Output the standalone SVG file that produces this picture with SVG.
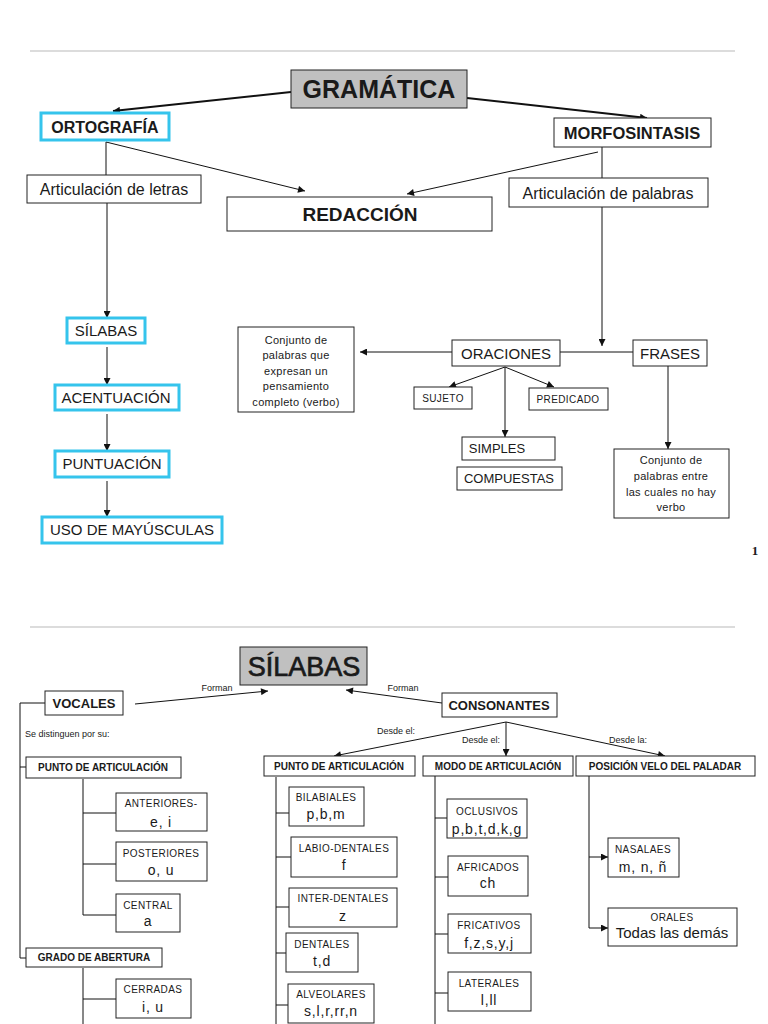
<svg xmlns="http://www.w3.org/2000/svg" width="768" height="1024" viewBox="0 0 768 1024">
<defs>
<style>
text{font-family:"Liberation Sans",Arial,sans-serif;fill:#1a1a1a;text-anchor:middle}
.b{font-weight:bold}
.box{fill:#fff;stroke:#222;stroke-width:1}
.cy{fill:#fff;stroke:#35c4ec;stroke-width:3}
.gray{fill:#c0c0c0;stroke:#222;stroke-width:1}
.ln{fill:none;stroke:#111;stroke-width:1}
.th{fill:none;stroke:#111;stroke-width:2}
.sep{stroke:#dcdcdc;stroke-width:2}
.s9{font-size:9px}
.s10{font-size:10px}
.l{letter-spacing:0.4px}
.s11{font-size:11px;letter-spacing:0.3px}
.s14{font-size:14px;letter-spacing:0.8px}
.s15{font-size:15px}
.s16{font-size:16px}
</style>
<marker id="ah" viewBox="0 0 10 10" refX="10" refY="5" markerWidth="8" markerHeight="7" markerUnits="userSpaceOnUse" orient="auto"><path d="M0,0 L10,5 L0,10 z" fill="#111"/></marker>
</defs>
<rect width="768" height="1024" fill="#fff"/>
<line class="sep" x1="30" y1="51" x2="735" y2="51"/>
<line class="sep" x1="30" y1="627" x2="735" y2="627"/>
<text x="755" y="555" style="font-family:'Liberation Serif',serif;font-size:13px;font-weight:bold">1</text>

<g id="connectors">
<line class="th" x1="291" y1="92" x2="113" y2="111" marker-end="url(#ah)"/>
<line class="th" x1="467" y1="98" x2="647" y2="118" marker-end="url(#ah)"/>
<line class="ln" x1="106" y1="142" x2="305" y2="191" marker-end="url(#ah)"/>
<line class="ln" x1="106" y1="142" x2="106" y2="175"/>
<line class="ln" x1="107" y1="203" x2="107" y2="318" marker-end="url(#ah)"/>
<line class="ln" x1="598" y1="152" x2="407" y2="194" marker-end="url(#ah)"/>
<line class="ln" x1="602" y1="147" x2="602" y2="178"/>
<line class="ln" x1="602" y1="207" x2="602" y2="346" marker-end="url(#ah)"/>
<line class="ln" x1="560" y1="352" x2="633" y2="352"/>
<line class="ln" x1="452" y1="352" x2="360" y2="352" marker-end="url(#ah)"/>
<line class="ln" x1="505" y1="367" x2="449" y2="387" marker-end="url(#ah)"/>
<line class="ln" x1="505" y1="367" x2="554" y2="387" marker-end="url(#ah)"/>
<line class="ln" x1="505" y1="367" x2="505" y2="437" marker-end="url(#ah)"/>
<line class="ln" x1="668" y1="366" x2="668" y2="449" marker-end="url(#ah)"/>
<line class="ln" x1="107" y1="347" x2="107" y2="385" marker-end="url(#ah)"/>
<line class="ln" x1="107" y1="414" x2="107" y2="451" marker-end="url(#ah)"/>
<line class="ln" x1="107" y1="481" x2="107" y2="517" marker-end="url(#ah)"/>

<line class="ln" x1="135" y1="704" x2="268" y2="691" marker-end="url(#ah)"/>
<line class="ln" x1="442" y1="703" x2="346" y2="690" marker-end="url(#ah)"/>
<path class="ln" d="M45,703 H20 V958 H26 M20,767 H26"/>
<path class="ln" d="M83,779 V915 M83,813 H116 M83,864 H116 M83,915 H116"/>
<path class="ln" d="M83,968 V1024 M83,999 H116"/>
<line class="ln" x1="506" y1="722" x2="334" y2="756" marker-end="url(#ah)"/>
<line class="ln" x1="506" y1="722" x2="506" y2="756" marker-end="url(#ah)"/>
<line class="ln" x1="506" y1="722" x2="665" y2="756" marker-end="url(#ah)"/>
<path class="ln" d="M276,777 V1024 M276,813 H289 M276,857 H291 M276,907 H289 M276,953 H286 M276,1005 H288"/>
<path class="ln" d="M435,776 V1024 M435,818 H447 M435,877 H448 M435,934 H448 M435,993 H448"/>
<path class="ln" d="M589,776 V928 H608" marker-end="url(#ah)"/>
<line class="ln" x1="589" y1="857" x2="608" y2="857" marker-end="url(#ah)"/>
<text class="s9" x="217" y="691">Forman</text>
<text class="s9" x="403" y="691">Forman</text>
<text class="s9" x="396" y="734">Desde el:</text>
<text class="s9" x="481" y="743">Desde el:</text>
<text class="s9" x="628" y="743">Desde la:</text>
<text class="s9" x="25" y="737" style="text-anchor:start">Se distinguen por su:</text>
</g>

<g id="gramatica"><rect class="gray" x="291" y="70" width="176" height="38"/><text class="b" x="379" y="98" style="font-size:25px">GRAMÁTICA</text></g>
<g id="ortografia"><rect class="cy" x="41" y="113" width="128" height="27"/><text class="b s16" x="105" y="133">ORTOGRAFÍA</text></g>
<g id="morfosintasis"><rect class="box" x="554" y="118" width="157" height="29"/><text class="b" x="632" y="139" style="font-size:16.5px">MORFOSINTASIS</text></g>
<g id="art-letras"><rect class="box" x="27" y="175" width="174" height="28"/><text class="s16" x="114" y="195">Articulación de letras</text></g>
<g id="redaccion"><rect class="box" x="227" y="197" width="265" height="34"/><text class="b" x="360" y="221" style="font-size:19px">REDACCIÓN</text></g>
<g id="art-palabras"><rect class="box" x="509" y="178" width="199" height="29"/><text class="s16" x="608" y="199">Articulación de palabras</text></g>
<g id="silabas1"><rect class="cy" x="67" y="318" width="78" height="25"/><text class="s15" x="106" y="336">SÍLABAS</text></g>
<g id="acentuacion"><rect class="cy" x="55" y="385" width="124" height="25"/><text class="s15" x="116" y="403">ACENTUACIÓN</text></g>
<g id="puntuacion"><rect class="cy" x="55" y="451" width="114" height="26"/><text class="s15" x="112" y="469">PUNTUACIÓN</text></g>
<g id="mayusculas"><rect class="cy" x="42" y="517" width="180" height="26"/><text class="s15" x="132" y="535">USO DE MAYÚSCULAS</text></g>
<g id="conjunto1"><rect class="box" x="238" y="327" width="116" height="85"/>
<text class="s11" x="296" y="344">Conjunto de</text><text class="s11" x="296" y="359">palabras que</text><text class="s11" x="296" y="375">expresan un</text><text class="s11" x="296" y="390">pensamiento</text><text class="s11" x="296" y="406">completo (verbo)</text></g>
<g id="oraciones"><rect class="box" x="452" y="340" width="108" height="26"/><text class="s15" x="506" y="359">ORACIONES</text></g>
<g id="frases"><rect class="box" x="633" y="340" width="74" height="26"/><text class="s15" x="670" y="359">FRASES</text></g>
<g id="sujeto"><rect class="box" x="414" y="387" width="58" height="22"/><text class="s10 l" x="443" y="402">SUJETO</text></g>
<g id="predicado"><rect class="box" x="529" y="388" width="79" height="22"/><text class="s10 l" x="568" y="403">PREDICADO</text></g>
<g id="simples"><rect class="box" x="462" y="437" width="93" height="23"/><text x="497" y="453" style="font-size:13px">SIMPLES</text></g>
<g id="compuestas"><rect class="box" x="457" y="467" width="105" height="23"/><text x="509" y="483" style="font-size:13px">COMPUESTAS</text></g>
<g id="conjunto2"><rect class="box" x="614" y="449" width="115" height="69"/>
<text class="s11" x="671" y="464">Conjunto de</text><text class="s11" x="671" y="480">palabras entre</text><text class="s11" x="671" y="496">las cuales no hay</text><text class="s11" x="671" y="511">verbo</text></g>

<g id="silabas2"><rect class="gray" x="240" y="647" width="127" height="38"/><text x="304" y="676" style="font-size:27px;stroke:#1a1a1a;stroke-width:0.7">SÍLABAS</text></g>
<g id="vocales"><rect class="box" x="45" y="691" width="78" height="24"/><text class="b" x="84" y="708" style="font-size:13px">VOCALES</text></g>
<g id="consonantes"><rect class="box" x="442" y="693" width="115" height="24"/><text class="b" x="499" y="710" style="font-size:13px">CONSONANTES</text></g>
<g id="punto-v"><rect class="box" x="26" y="757" width="155" height="21"/><text class="b s10" x="103" y="771">PUNTO DE ARTICULACIÓN</text></g>
<g id="anteriores"><rect class="box" x="116" y="793" width="91" height="38"/><text class="s10 l" x="161" y="807">ANTERIORES-</text><text class="s14" x="161" y="827">e, i</text></g>
<g id="posteriores"><rect class="box" x="116" y="842" width="91" height="39"/><text class="s10 l" x="161" y="857">POSTERIORES</text><text class="s14" x="161" y="875">o, u</text></g>
<g id="central"><rect class="box" x="116" y="894" width="64" height="38"/><text class="s10 l" x="148" y="909">CENTRAL</text><text class="s14" x="148" y="926">a</text></g>
<g id="grado"><rect class="box" x="26" y="948" width="136" height="19"/><text class="b s10" x="94" y="961">GRADO DE ABERTURA</text></g>
<g id="cerradas"><rect class="box" x="116" y="979" width="75" height="39"/><text class="s10 l" x="153" y="993">CERRADAS</text><text class="s14" x="153" y="1012">i, u</text></g>
<g id="punto-c"><rect class="box" x="264" y="756" width="151" height="20"/><text class="b s10" x="339" y="770">PUNTO DE ARTICULACIÓN</text></g>
<g id="modo"><rect class="box" x="423" y="756" width="150" height="20"/><text class="b s10" x="498" y="770">MODO DE ARTICULACIÓN</text></g>
<g id="posicion"><rect class="box" x="576" y="756" width="179" height="20"/><text class="b s10" x="665" y="770">POSICIÓN VELO DEL PALADAR</text></g>
<g id="bilabiales"><rect class="box" x="289" y="787" width="75" height="39"/><text class="s10 l" x="326" y="801">BILABIALES</text><text class="s14" x="326" y="819">p,b,m</text></g>
<g id="labiodentales"><rect class="box" x="291" y="837" width="106" height="40"/><text class="s10 l" x="344" y="852">LABIO-DENTALES</text><text class="s14" x="344" y="870">f</text></g>
<g id="interdentales"><rect class="box" x="289" y="888" width="108" height="39"/><text class="s10 l" x="343" y="902">INTER-DENTALES</text><text class="s14" x="343" y="921">z</text></g>
<g id="dentales"><rect class="box" x="286" y="933" width="72" height="39"/><text class="s10 l" x="322" y="948">DENTALES</text><text class="s14" x="322" y="966">t,d</text></g>
<g id="alveolares"><rect class="box" x="288" y="984" width="86" height="39"/><text class="s10 l" x="331" y="998">ALVEOLARES</text><text class="s14" x="331" y="1016">s,l,r,rr,n</text></g>
<g id="oclusivos"><rect class="box" x="447" y="799" width="80" height="39"/><text class="s10 l" x="487" y="815">OCLUSIVOS</text><text class="s14" x="487" y="834">p,b,t,d,k,g</text></g>
<g id="africados"><rect class="box" x="448" y="856" width="80" height="40"/><text class="s10 l" x="488" y="871">AFRICADOS</text><text class="s14" x="488" y="888">ch</text></g>
<g id="fricativos"><rect class="box" x="448" y="914" width="83" height="39"/><text class="s10 l" x="489" y="929">FRICATIVOS</text><text class="s14" x="489" y="948">f,z,s,y,j</text></g>
<g id="laterales"><rect class="box" x="448" y="972" width="83" height="39"/><text class="s10 l" x="489" y="987">LATERALES</text><text class="s14" x="489" y="1005">l,ll</text></g>
<g id="nasales"><rect class="box" x="608" y="838" width="71" height="39"/><text class="s10 l" x="643" y="853">NASALAES</text><text class="s14" x="643" y="872">m, n, ñ</text></g>
<g id="orales"><rect class="box" x="608" y="908" width="129" height="38"/><text class="s10 l" x="672" y="921">ORALES</text><text class="s15" x="672" y="938">Todas las demás</text></g>
</svg>
